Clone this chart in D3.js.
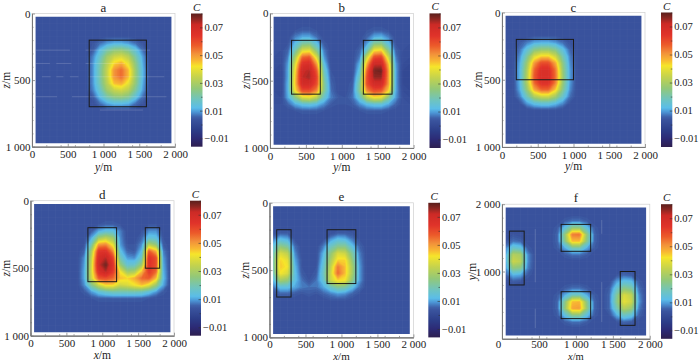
<!DOCTYPE html>
<html>
<head>
<meta charset="utf-8">
<script src="https://cdn.jsdelivr.net/npm/d3@7"></script>
<style>
  body { margin: 0; background: #fff; }
  svg { display: block; }
  text { font-family: "Liberation Serif", serif; fill: #222; }
</style>
</head>
<body>
<div id="chart"></div>
<script>
// concentration, in units of 0.001, 20 columns by 20 rows
const gridA = [
  [3,3,3,3,3,3,3,3,3,3,3,3,3,3,3,3,3,3,3,3],
  [3,3,3,3,3,3,3,3,3,3,3,3,3,3,3,3,3,3,3,3],
  [3,3,3,3,3,3,3,3,3,3,3,3,3,3,3,3,3,3,3,3],
  [3,3,3,3,3,3,3,3,3,3,4,4,4,4,3,3,3,3,3,3],
  [3,3,3,3,3,3,3,3,4,7,10,12,12,10,7,4,3,3,3,3],
  [3,3,3,3,3,3,3,3,5,13,21,26,27,23,15,7,3,3,3,3],
  [3,3,3,3,3,3,3,3,8,17,29,36,38,33,21,10,3,3,3,3],
  [3,3,3,3,3,3,3,3,9,20,33,44,48,40,25,11,3,3,3,3],
  [3,3,3,3,3,3,3,3,9,21,35,51,56,46,27,12,3,3,3,3],
  [3,3,3,3,3,3,3,3,9,21,35,51,56,46,27,12,3,3,3,3],
  [3,3,3,3,3,3,3,3,9,20,33,46,48,40,26,11,3,3,3,3],
  [3,3,3,3,3,3,3,3,8,17,29,35,37,33,22,10,3,3,3,3],
  [3,3,3,3,3,3,3,3,5,13,21,26,27,24,15,7,3,3,3,3],
  [3,3,3,3,3,3,3,3,3,7,11,13,13,12,7,4,3,3,3,3],
  [3,3,3,3,3,3,3,3,3,3,4,4,4,4,3,3,3,3,3,3],
  [3,3,3,3,3,3,3,3,3,3,3,3,3,3,3,3,3,3,3,3],
  [3,3,3,3,3,3,3,3,3,3,3,3,3,3,3,3,3,3,3,3],
  [3,3,3,3,3,3,3,3,3,3,3,3,3,3,3,3,3,3,3,3],
  [3,3,3,3,3,3,3,3,3,3,3,3,3,3,3,3,3,3,3,3],
  [3,3,3,3,3,3,3,3,3,3,3,3,3,3,3,3,3,3,3,3]
];
const gridB = [
  [3,3,3,3,3,3,3,3,3,3,3,3,3,3,3,3,3,3,3,3],
  [3,3,3,3,3,3,3,3,3,3,3,3,3,3,3,3,3,3,3,3],
  [3,3,3,4,5,5,4,3,3,3,3,3,3,4,5,5,4,3,3,3],
  [3,3,3,8,11,11,7,3,3,3,3,3,3,6,11,12,8,3,3,3],
  [3,3,4,13,22,23,14,5,3,3,3,3,4,10,24,25,14,4,3,3],
  [3,3,6,20,38,40,24,8,3,3,3,3,6,18,42,44,24,6,3,2],
  [3,2,8,30,56,58,38,10,3,3,3,3,8,36,60,62,36,8,2,2],
  [2,2,10,38,66,68,50,14,3,3,3,3,12,48,72,72,46,10,2,1],
  [2,1,11,42,72,74,58,18,4,3,3,3,15,56,78,79,50,11,1,0],
  [1,1,11,44,73,75,62,21,5,3,3,4,19,60,76,76,50,11,1,0],
  [1,1,12,45,70,70,60,24,6,3,3,5,23,60,70,70,50,11,1,0],
  [2,1,12,42,60,60,52,24,7,3,3,6,24,52,60,58,44,11,2,1],
  [2,2,11,24,38,40,33,17,8,5,4,7,17,34,42,40,24,10,3,2],
  [3,3,6,11,14,15,13,9,5,4,4,5,9,13,15,15,11,6,3,3],
  [3,3,3,4,5,5,5,4,3,3,3,3,4,5,5,5,4,3,3,3],
  [3,3,3,3,3,3,3,3,3,3,3,3,3,3,3,3,3,3,3,3],
  [3,3,3,3,3,3,3,3,3,3,3,3,3,3,3,3,3,3,3,3],
  [3,3,3,3,3,3,3,3,3,3,3,3,3,3,3,3,3,3,3,3],
  [3,3,3,3,3,3,3,3,3,3,3,3,3,3,3,3,3,3,3,3],
  [3,3,3,3,3,3,3,3,3,3,3,3,3,3,3,3,3,3,3,3]
];
const gridC = [
  [3,3,3,3,3,3,3,3,3,3,3,3,3,3,3,3,3,3,3,3],
  [3,3,3,3,3,3,3,3,3,3,3,3,3,3,3,3,3,3,3,3],
  [3,3,3,3,3,3,3,3,3,3,3,3,3,3,3,3,3,3,3,3],
  [3,3,3,3,4,4,4,4,3,3,3,3,3,3,3,3,3,3,3,3],
  [3,3,5,8,11,12,12,10,7,4,3,3,3,3,3,3,3,3,3,3],
  [3,3,7,15,24,27,27,23,14,6,3,3,3,3,3,3,3,3,3,3],
  [3,3,9,22,38,44,44,36,20,8,3,3,3,3,3,3,3,3,3,3],
  [3,3,11,28,50,60,60,48,25,9,3,3,3,3,3,3,3,3,3,3],
  [3,3,12,31,56,67,67,54,27,10,3,3,3,3,3,3,3,3,3,3],
  [3,3,12,32,58,68,68,55,28,10,3,3,3,3,3,3,3,3,3,3],
  [3,3,12,31,56,66,66,53,27,10,3,3,3,3,3,3,3,3,3,3],
  [3,3,11,27,48,56,56,44,24,9,3,3,3,3,3,3,3,3,3,3],
  [3,3,8,19,31,36,36,29,17,7,3,3,3,3,3,3,3,3,3,3],
  [3,3,4,10,14,16,16,13,9,4,3,3,3,3,3,3,3,3,3,3],
  [3,3,3,3,4,4,4,4,3,3,3,3,3,3,3,3,3,3,3,3],
  [3,3,3,3,3,3,3,3,3,3,3,3,3,3,3,3,3,3,3,3],
  [3,3,3,3,3,3,3,3,3,3,3,3,3,3,3,3,3,3,3,3],
  [3,3,3,3,3,3,3,3,3,3,3,3,3,3,3,3,3,3,3,3],
  [3,3,3,3,3,3,3,3,3,3,3,3,3,3,3,3,3,3,3,3],
  [3,3,3,3,3,3,3,3,3,3,3,3,3,3,3,3,3,3,3,3]
];
const gridD = [
  [3,3,3,3,3,3,3,3,3,3,3,3,3,3,3,3,3,3,3,3],
  [3,3,3,3,3,3,3,3,3,3,3,3,3,3,3,3,3,3,3,3],
  [3,3,3,3,3,3,3,3,3,3,3,3,3,3,3,3,3,3,3,3],
  [3,3,3,3,3,3,3,3,3,4,5,5,4,3,3,3,4,4,3,3],
  [3,3,3,3,3,3,3,3,5,11,14,14,8,3,3,4,9,9,3,3],
  [3,3,3,3,3,3,3,3,11,28,33,28,9,3,3,6,15,14,4,3],
  [3,3,3,3,3,3,3,4,20,50,52,40,10,4,4,9,32,26,5,3],
  [3,3,3,3,3,3,3,6,30,65,66,52,14,6,5,13,58,48,8,3],
  [3,3,3,3,3,3,3,9,34,70,74,62,20,10,9,18,66,60,10,3],
  [3,3,3,3,3,3,3,10,36,72,79,66,28,16,17,28,66,60,11,3],
  [3,3,3,3,3,3,3,11,37,68,74,64,42,28,30,46,64,56,12,3],
  [3,3,3,3,3,3,3,11,36,58,60,56,46,44,48,56,58,46,13,3],
  [3,3,3,3,3,3,3,9,24,36,44,44,36,38,42,46,40,28,11,3],
  [3,3,3,3,3,3,3,5,10,15,18,20,20,20,20,19,15,10,5,3],
  [3,3,3,3,3,3,3,3,4,5,5,5,5,5,5,5,4,3,3,3],
  [3,3,3,3,3,3,3,3,3,3,3,3,3,3,3,3,3,3,3,3],
  [3,3,3,3,3,3,3,3,3,3,3,3,3,3,3,3,3,3,3,3],
  [3,3,3,3,3,3,3,3,3,3,3,3,3,3,3,3,3,3,3,3],
  [3,3,3,3,3,3,3,3,3,3,3,3,3,3,3,3,3,3,3,3],
  [3,3,3,3,3,3,3,3,3,3,3,3,3,3,3,3,3,3,3,3]
];
const gridE = [
  [3,3,3,3,3,3,3,3,3,3,3,3,3,3,3,3,3,3,3,3],
  [3,3,3,3,3,3,3,3,3,3,3,3,3,3,3,3,3,3,3,3],
  [3,3,3,3,3,3,3,3,3,3,3,3,3,3,3,3,3,3,3,3],
  [3,3,3,3,3,3,3,3,3,3,3,3,3,3,3,3,3,3,3,3],
  [3,5,5,3,3,3,3,3,3,5,5,4,3,3,3,3,3,3,3,3],
  [8,14,12,4,3,3,3,4,10,14,13,8,4,3,3,3,3,3,3,3],
  [14,26,22,7,3,3,3,8,18,24,24,14,6,3,3,3,3,3,3,3],
  [18,38,34,9,3,3,3,12,26,38,36,22,8,3,3,3,3,3,3,3],
  [20,44,40,11,4,3,3,14,30,44,44,26,9,3,3,3,3,3,3,3],
  [20,45,42,13,4,3,4,16,34,54,46,30,10,3,3,3,3,3,3,3],
  [18,42,38,14,5,3,5,18,36,56,46,30,10,3,3,3,3,3,3,3],
  [12,30,27,14,7,4,7,16,36,44,42,26,10,3,3,3,3,3,3,3],
  [7,14,14,11,8,7,7,11,18,24,22,14,7,3,3,3,3,3,3,3],
  [3,6,6,5,4,5,4,6,8,10,9,6,4,3,3,3,3,3,3,3],
  [3,3,3,3,3,3,3,3,4,4,4,3,3,3,3,3,3,3,3,3],
  [3,3,3,3,3,3,3,3,3,3,3,3,3,3,3,3,3,3,3,3],
  [3,3,3,3,3,3,3,3,3,3,3,3,3,3,3,3,3,3,3,3],
  [3,3,3,3,3,3,3,3,3,3,3,3,3,3,3,3,3,3,3,3],
  [3,3,3,3,3,3,3,3,3,3,3,3,3,3,3,3,3,3,3,3],
  [3,3,3,3,3,3,3,3,3,3,3,3,3,3,3,3,3,3,3,3]
];
const gridF = [
  [3,3,3,3,3,3,3,3,3,3,3,3,3,3,3,3,3,3,3,3],
  [3,3,3,3,3,3,3,3,3,3,3,3,3,3,3,3,3,3,3,3],
  [3,3,3,3,3,3,3,3,5,7,7,5,3,3,3,3,3,3,3,3],
  [3,3,3,3,3,3,3,5,14,26,26,14,5,3,3,3,3,3,3,3],
  [3,4,3,3,3,3,3,6,26,54,55,26,6,3,3,3,3,3,3,3],
  [4,7,6,3,3,3,3,6,24,46,46,24,6,3,3,3,3,3,3,3],
  [8,17,15,5,3,3,3,5,11,20,20,11,5,3,3,3,3,3,3,3],
  [10,32,30,9,3,3,3,3,5,7,7,5,3,3,3,3,3,3,3,3],
  [10,36,33,9,3,3,3,3,3,3,3,3,3,3,3,3,3,3,3,3],
  [9,26,24,8,3,3,3,3,3,3,3,3,3,3,3,3,3,3,3,3],
  [6,12,11,5,3,3,3,3,3,3,3,3,3,3,3,4,6,5,3,3],
  [3,5,4,3,3,3,3,3,3,3,3,3,3,3,3,10,14,13,5,3],
  [3,3,3,3,3,3,3,3,5,7,7,5,3,3,5,16,25,22,7,3],
  [3,3,3,3,3,3,3,5,11,18,18,11,5,3,6,22,38,34,9,3],
  [3,3,3,3,3,3,3,6,24,46,47,24,6,3,6,24,40,36,10,3],
  [3,3,3,3,3,3,3,6,26,49,50,26,6,3,6,19,32,28,8,3],
  [3,3,3,3,3,3,3,5,14,24,24,14,5,3,4,11,18,15,6,3],
  [3,3,3,3,3,3,3,3,5,7,7,5,3,3,3,4,6,5,3,3],
  [3,3,3,3,3,3,3,3,3,3,3,3,3,3,3,3,3,3,3,3],
  [3,3,3,3,3,3,3,3,3,3,3,3,3,3,3,3,3,3,3,3]
];

// source boxes: [h0, h1, v0, v1] in metres
const boxesA = [[800, 1600, 200, 700]];
const boxesB = [[300, 700, 200, 600], [1300, 1700, 200, 600]];
const boxesC = [[200, 1000, 200, 500]];
const boxesD = [[800, 1200, 200, 600], [1600, 1800, 200, 500]];
const boxesE = [[100, 300, 200, 700], [800, 1200, 200, 600]];
const boxesF = [[100, 300, 800, 1600], [800, 1200, 1300, 1700], [800, 1200, 300, 700], [1600, 1800, 200, 1000]];

// faint white streaks in the scan: [along, from, to]
const streaksA = [[275, 50, 530], [275, 750, 1650], [375, 50, 250], [375, 340, 550], [375, 750, 1300],
  [475, 140, 260], [475, 340, 440], [475, 530, 650], [475, 790, 1850], [625, 50, 350], [625, 560, 1880], [725, 950, 1550]];
const streaksF = [[450, 840, 1630], [450, 160, 447], [1350, 250, 843], [1350, 1560, 1765]];

const axisTicks = [0, 500, 1000, 1500, 2000];
const depthTicks = [0, 500, 1000];
const minorAxis = [200, 400, 600, 800, 1200, 1400, 1600, 1800];
const minorDepth = [100, 200, 300, 400, 600, 700, 800, 900];
const barTicks = [-0.01, 0.01, 0.03, 0.05, 0.07];
const barMinor = [0, 0.02, 0.04, 0.06, 0.08];

const colorValues = [-0.016, -0.01, -0.004, 0.0035, 0.0055, 0.009, 0.012, 0.018, 0.026, 0.034, 0.042, 0.046, 0.051, 0.057, 0.064, 0.072, 0.076, 0.08];
const colorList = ["#2e1f50", "#2c2a75", "#2c3d88", "#3a549e", "#3f62aa", "#4c96d6", "#5bbde8", "#6fc4bf", "#93c878", "#c3d24e",
  "#f6e52a", "#f8b833", "#f2913a", "#ec5a2a", "#e0332a", "#cc2a26", "#8c2722", "#5a1f1c"];

const panels = [
  { title: "a", grid: gridA, boxes: boxesA, hLabel: "y", vLabel: "z", left: 32, right: 175, top: 13.5, bottom: 146.7,
    barLeft: 191, barRight: 202.5, vLabelX: 7, nameGap: 24, tickPad: 4, nameSize: 11.5, streaks: streaksA },
  { title: "b", grid: gridB, boxes: boxesB, hLabel: "y", vLabel: "z", left: 270, right: 413.6, top: 13.4, bottom: 148,
    barLeft: 429.5, barRight: 440.7, vLabelX: 247, nameGap: 23, tickPad: 4, nameSize: 11.5 },
  { title: "c", grid: gridC, boxes: boxesC, hLabel: "y", vLabel: "z", left: 502, right: 645, top: 12.5, bottom: 147,
    barLeft: 661, barRight: 672.3, vLabelX: 479, nameGap: 23, tickPad: 4, nameSize: 11.5 },
  { title: "d", grid: gridD, boxes: boxesD, hLabel: "x", vLabel: "z", left: 30.5, right: 174, top: 200.7, bottom: 335.7,
    barLeft: 190, barRight: 201, vLabelX: 7, nameGap: 23.5, tickPad: 3.5, nameSize: 11.5 },
  { title: "e", grid: gridE, boxes: boxesE, hLabel: "x", vLabel: "z", left: 269.5, right: 413.4, top: 202.8, bottom: 337.4,
    barLeft: 428.3, barRight: 440, vLabelX: 246, nameGap: 22.5, tickPad: 3, nameSize: 11 },
  { title: "f", grid: gridF, boxes: boxesF, hLabel: "x", vLabel: "y", left: 502, right: 649.8, top: 204.2, bottom: 338.8,
    barLeft: 661, barRight: 672.3, vLabelX: 473, nameGap: 20.8, tickPad: 1.5, nameSize: 10.5, streaks: streaksF, vertical: true }
];

const svgWidth = 700;
const svgHeight = 362;

const svg = d3.select("#chart").append("svg")
  .attr("width", svgWidth)
  .attr("height", svgHeight);

const defs = svg.append("defs");
defs.append("filter").attr("id", "soft")
  .attr("color-interpolation-filters", "sRGB")
  .append("feGaussianBlur").attr("stdDeviation", 0.4);

const color = d3.scaleLinear().domain(colorValues).range(colorList).clamp(true);

// shared gradient for the colour bars
const gradient = defs.append("linearGradient").attr("id", "barFill")
  .attr("x1", 0).attr("y1", 1).attr("x2", 0).attr("y2", 0);
colorValues.forEach((v, i) => {
  gradient.append("stop")
    .attr("offset", (v - colorValues[0]) / (colorValues[colorValues.length - 1] - colorValues[0]))
    .attr("stop-color", colorList[i]);
});

const thousands = d => d >= 1000 ? `${Math.floor(d / 1000)} ${String(d % 1000).padStart(3, "0")}` : `${d}`;
const levels = d3.range(-4, 80, 1);
const contours = d3.contours().size([20, 20]).thresholds(levels);

panels.forEach((p, idx) => {
  const g = svg.append("g");
  const x = d3.scaleLinear().domain([0, 2000]).range([p.left, p.right]);
  const y = p.vertical
    ? d3.scaleLinear().domain([2000, 0]).range([p.top, p.bottom])
    : d3.scaleLinear().domain([0, 1000]).range([p.top, p.bottom]);

  // grid sample i sits in the middle of its cell, 100 m wide
  const heatV = p.vertical ? [1950, 50] : [25, 975];
  const cellX = d3.scaleLinear().domain([0.5, 19.5]).range([x(50), x(1950)]);
  const cellY = d3.scaleLinear().domain([0.5, 19.5]).range([y(heatV[0]), y(heatV[1])]);

  const clipId = `clip${idx}`;
  defs.append("clipPath").attr("id", clipId).append("rect")
    .attr("x", x(50)).attr("y", y(heatV[0]))
    .attr("width", x(1950) - x(50)).attr("height", y(heatV[1]) - y(heatV[0]));

  const heat = g.append("g").attr("clip-path", `url(#${clipId})`).append("g").attr("filter", "url(#soft)");
  heat.append("rect")
    .attr("x", x(50) - 3).attr("y", y(heatV[0]) - 3)
    .attr("width", x(1950) - x(50) + 6).attr("height", y(heatV[1]) - y(heatV[0]) + 6)
    .attr("fill", color(0.003));

  const project = d3.geoTransform({
    point: function(a, b) { this.stream.point(cellX(a), cellY(b)); }
  });
  heat.selectAll("path")
    .data(contours(p.grid.flat()))
    .enter().append("path")
    .attr("d", d3.geoPath(project))
    .attr("fill", d => color(d.value / 1000));

  // faint mesh lines and streaks over the field
  const mesh = g.append("g").attr("clip-path", `url(#${clipId})`)
    .attr("stroke", "#fff").attr("stroke-width", 0.6);
  mesh.selectAll(".mv").data(d3.range(50, 1951, 100)).enter().append("line")
    .attr("x1", d => x(d)).attr("x2", d => x(d))
    .attr("y1", p.top).attr("y2", p.bottom).attr("stroke-opacity", 0.05);
  mesh.selectAll(".mh").data(p.vertical ? d3.range(50, 1951, 100) : d3.range(25, 976, 50)).enter().append("line")
    .attr("y1", d => y(d)).attr("y2", d => y(d))
    .attr("x1", p.left).attr("x2", p.right).attr("stroke-opacity", 0.04);
  mesh.selectAll(".st").data(p.streaks || []).enter().append("line")
    .attr("x1", d => p.vertical ? x(d[0]) : x(d[1]))
    .attr("x2", d => p.vertical ? x(d[0]) : x(d[2]))
    .attr("y1", d => p.vertical ? y(d[1]) : y(d[0]))
    .attr("y2", d => p.vertical ? y(d[2]) : y(d[0]))
    .attr("stroke-opacity", 0.2).attr("stroke-width", 0.8);

  // frame
  g.append("rect")
    .attr("x", p.left).attr("y", p.top)
    .attr("width", p.right - p.left).attr("height", p.bottom - p.top)
    .attr("fill", "none").attr("stroke", "#cfcfcf").attr("stroke-width", 0.7);

  // source boxes
  g.selectAll(".box").data(p.boxes).enter().append("rect")
    .attr("x", d => x(d[0])).attr("width", d => x(d[1]) - x(d[0]))
    .attr("y", d => Math.min(y(d[2]), y(d[3]))).attr("height", d => Math.abs(y(d[3]) - y(d[2])))
    .attr("fill", "none").attr("stroke", "#1a1a1a").attr("stroke-width", 1);

  // axes
  const bottomAxis = d3.axisBottom(x).tickValues(axisTicks).tickFormat(thousands).tickSizeInner(-3).tickSizeOuter(0).tickPadding(p.tickPad);
  const leftTicks = p.vertical ? [1000, 2000] : depthTicks;
  const leftAxis = d3.axisLeft(y).tickValues(leftTicks).tickFormat(thousands).tickSizeInner(-3).tickSizeOuter(0).tickPadding(1.5);

  const gx = g.append("g").attr("transform", `translate(0,${p.bottom})`).call(bottomAxis);
  g.append("g").attr("transform", `translate(${p.left},0)`).call(leftAxis);
  g.append("g").attr("transform", `translate(0,${p.bottom})`)
    .call(d3.axisBottom(x).tickValues(minorAxis).tickFormat("").tickSizeInner(-1.5).tickSizeOuter(0));
  g.append("g").attr("transform", `translate(${p.left},0)`)
    .call(d3.axisLeft(y).tickValues(p.vertical ? minorAxis : minorDepth).tickFormat("").tickSizeInner(-1.5).tickSizeOuter(0));
  g.selectAll(".domain").attr("stroke", "#777").attr("stroke-width", 1);
  g.selectAll(".tick line").attr("stroke", "#777").attr("stroke-width", 0.7);
  g.selectAll(".tick text").style("font-size", "11px").attr("fill", "#222").style("font-family", "Liberation Serif");

  if (p.vertical) {
    // the 0 of panel f's horizontal axis sits a little left of its tick
    gx.selectAll(".tick").filter(d => d === 0).select("text").attr("x", -4);
  }

  // titles and axis names
  g.append("text")
    .attr("x", (p.left + p.right) / 2).attr("y", Math.max(p.top - 2, 11.5))
    .attr("text-anchor", "middle").style("font-size", "13px").text(p.title);

  const hName = g.append("text")
    .attr("x", (p.left + p.right) / 2).attr("y", p.bottom + p.nameGap)
    .attr("text-anchor", "middle").style("font-size", `${p.nameSize}px`);
  hName.append("tspan").attr("font-style", "italic").text(p.hLabel);
  hName.append("tspan").text("/m");

  const vName = g.append("text")
    .attr("transform", `translate(${p.vLabelX + 3},${(p.top + p.bottom) / 2}) rotate(-90)`)
    .attr("text-anchor", "middle").style("font-size", "11.5px");
  vName.append("tspan").attr("font-style", "italic").text(p.vLabel);
  vName.append("tspan").text("/m");

  // colour bar
  const barScale = d3.scaleLinear().domain([-0.016, 0.08]).range([p.bottom, p.top]);
  g.append("rect")
    .attr("x", p.barLeft).attr("y", p.top)
    .attr("width", p.barRight - p.barLeft).attr("height", p.bottom - p.top)
    .attr("fill", "url(#barFill)").attr("filter", "url(#soft)");

  const barAxis = d3.axisRight(barScale).tickValues(barTicks)
    .tickFormat(d => d < 0 ? `\u2212${Math.abs(d).toFixed(2)}` : d.toFixed(2))
    .tickSizeInner(-2.5).tickSizeOuter(0).tickPadding(2);
  const gb = g.append("g").attr("transform", `translate(${p.barRight},0)`).call(barAxis);
  g.append("g").attr("transform", `translate(${p.barRight},0)`)
    .call(d3.axisRight(barScale).tickValues(barMinor).tickFormat("").tickSizeInner(-1.5).tickSizeOuter(0))
    .call(a => a.select(".domain").remove())
    .selectAll(".tick line").attr("stroke", "#333").attr("stroke-width", 0.6);
  gb.select(".domain").remove();
  gb.selectAll(".tick line").attr("stroke", "#333").attr("stroke-width", 0.6);
  gb.selectAll(".tick text").style("font-size", "10.5px").style("font-family", "Liberation Serif").attr("fill", "#222");

  g.append("text")
    .attr("x", (p.barLeft + p.barRight) / 2).attr("y", Math.max(p.top - 3, 10))
    .attr("text-anchor", "middle").attr("font-style", "italic").style("font-size", "11px").text("C");
});
</script>
</body>
</html>
